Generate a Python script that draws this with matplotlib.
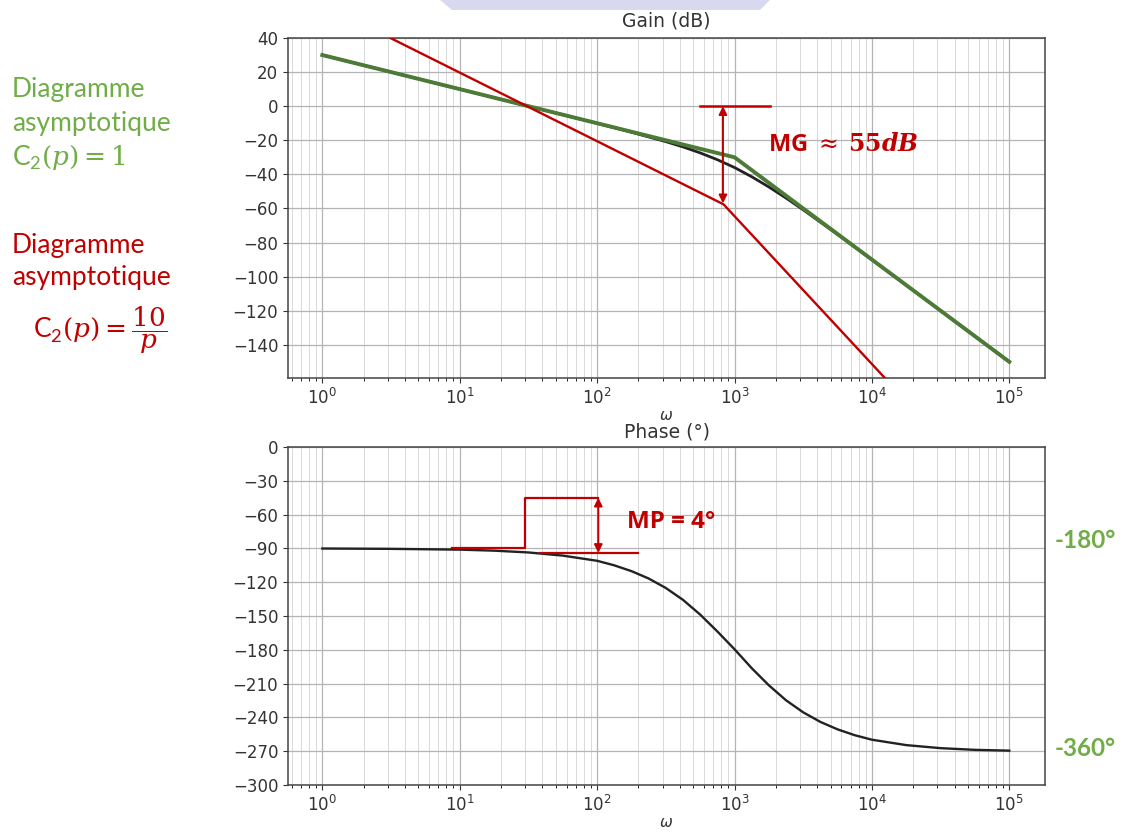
import matplotlib
matplotlib.use("Agg")
import matplotlib.pyplot as plt
from matplotlib.patches import Polygon

# ---------------- data ----------------
# Real gain curve (black)
omega_gain = [1, 10, 100, 178, 316, 422, 562, 750, 1000, 1334, 1778, 2371,
              3162, 5623, 10000, 31623, 100000]
gain_db = [30, 10, -10.1, -15.3, -20.8, -23.9, -27.4, -31.4, -36.0, -41.4,
           -47.4, -53.9, -60.8, -75.3, -90.1, -120.0, -150.0]

# Asymptotic diagram C2(p) = 1 (green)
omega_asym_green = [1, 1000, 100000]
gain_asym_green = [30, -30, -150]

# Asymptotic diagram C2(p) = 10/p (red)
omega_asym_red = [3.13, 832, 12600]
gain_asym_red = [40, -57.6, -160]

# Gain margin marker
omega_mg_line = [562, 1820]
gain_mg_line = [0, 0]
omega_mg_arrow = 824
gain_mg_arrow = [0, -57]

# Real phase curve
omega_phase = [1, 3.16, 10, 17.8, 31.6, 56.2, 100, 133, 178, 237, 316, 422,
               562, 750, 1000, 1334, 1778, 2371, 3162, 4217, 5623, 7499,
               10000, 17783, 31623, 56234, 100000]
phase_deg = [-90.1, -90.4, -91.1, -92.0, -93.6, -96.4, -101.0, -105.0,
             -110.2, -116.7, -125.1, -135.7, -148.7, -163.7, -179.5, -196.3,
             -211.5, -224.8, -235.5, -244.0, -250.6, -255.8, -259.8, -264.6,
             -267.3, -268.8, -269.5]

# Phase margin marker
omega_mp_step = [8.8, 30, 30, 102]
phase_mp_step = [-90, -90, -45, -45]
omega_mp_low = [38.5, 199]
phase_mp_low = [-94, -94]
omega_mp_arrow = 102
phase_mp_arrow = [-45, -94]

gain_ticks = [40, 20, 0, -20, -40, -60, -80, -100, -120, -140]
phase_ticks = [0, -30, -60, -90, -120, -150, -180, -210, -240, -270, -300]
xtick_vals = [1, 10, 100, 1000, 10000, 100000]

# ---------------- styling ----------------
GREEN_TXT = "#70AD47"
RED = "#C00000"
GREEN_LINE = "#4d7a36"
plt.rcParams.update({
    "font.family": ["DejaVu Sans"],
    "mathtext.fontset": "custom",
    "mathtext.rm": "DejaVu Serif",
    "mathtext.it": "DejaVu Serif:italic",
    "mathtext.bf": "DejaVu Serif:bold",
    "mathtext.bfit": "DejaVu Serif:italic:bold",
    "mathtext.sf": "Lato",
})

W, H = 1121, 834
fig = plt.figure(figsize=(W / 100, H / 100), dpi=100)
fig.patch.set_facecolor("white")


def fx(px):
    return px / W


def fy(py):
    return 1 - py / H


ax1 = fig.add_axes([fx(288), fy(378), fx(1045) - fx(288), fy(38) - fy(378)])
ax2 = fig.add_axes([fx(288), fy(785), fx(1045) - fx(288), fy(447) - fy(785)])

for ax in (ax1, ax2):
    ax.set_xscale("log")
    ax.set_xlim(10 ** -0.25, 10 ** 5.26)
    ax.set_xticks(xtick_vals)
    ax.grid(True, which="major", color="#b4b4b4", lw=0.9)
    ax.grid(True, which="minor", color="#d9d9d9", lw=0.7)
    ax.set_axisbelow(True)
    ax.tick_params(labelsize=12, colors="#333333", labelcolor="#333333")
    for lbl in ax.get_xticklabels() + ax.get_yticklabels():
        lbl.set_family("DejaVu Sans")
    for s in ax.spines.values():
        s.set_color("#444444")
        s.set_linewidth(1.1)
    ax.set_xlabel("ω", fontsize=11, style="italic", family="DejaVu Sans",
                  color="#333333", labelpad=0)

# ---- Gain ----
ax1.set_ylim(-159.5, 40)
ax1.set_yticks(gain_ticks)
ax1.set_title("Gain (dB)", fontsize=13.5, color="#333333", pad=8,
              family="DejaVu Sans")
ax1.plot(omega_gain, gain_db, color="#222222", lw=2.0, zorder=3)
ax1.plot(omega_asym_green, gain_asym_green, color=GREEN_LINE, lw=2.8, zorder=4)
ax1.plot(omega_asym_red, gain_asym_red, color=RED, lw=1.7, zorder=5)
ax1.plot(omega_mg_line, gain_mg_line, color=RED, lw=1.8, zorder=5)
ax1.annotate("", xy=(omega_mg_arrow, gain_mg_arrow[1]),
             xytext=(omega_mg_arrow, gain_mg_arrow[0]),
             arrowprops=dict(arrowstyle="<|-|>", color=RED, lw=1.4,
                             mutation_scale=12, shrinkA=0, shrinkB=0),
             zorder=6)
fig.text(fx(768), fy(145), r"MG $\approx$ $\mathbf{55}\mathbfit{dB}$",
         color=RED, fontsize=17, fontweight="bold", family="Open Sans",
         va="center", ha="left")

# ---- Phase ----
ax2.set_ylim(-300, 0)
ax2.set_yticks(phase_ticks)
ax2.set_title("Phase (°)", fontsize=13.5, color="#333333", pad=7,
              family="DejaVu Sans")
ax2.plot(omega_phase, phase_deg, color="#222222", lw=1.7, zorder=3)
ax2.plot(omega_mp_step, phase_mp_step, color=RED, lw=1.6, zorder=5)
ax2.plot(omega_mp_low, phase_mp_low, color=RED, lw=1.6, zorder=5)
ax2.annotate("", xy=(omega_mp_arrow, phase_mp_arrow[1]),
             xytext=(omega_mp_arrow, phase_mp_arrow[0]),
             arrowprops=dict(arrowstyle="<|-|>", color=RED, lw=1.4,
                             mutation_scale=12, shrinkA=0, shrinkB=0),
             zorder=6)
fig.text(fx(627), fy(522), "MP = 4°", color=RED, fontsize=17.5,
         fontweight="bold", family="Open Sans", va="center", ha="left")

# ---- side labels ----
lab_kw = dict(fontsize=19, family="Lato", va="center", ha="left")
fig.text(fx(12), fy(89), "Diagramme", color=GREEN_TXT, **lab_kw)
fig.text(fx(12), fy(124), "asymptotique", color=GREEN_TXT, **lab_kw)
fig.text(fx(12), fy(158), r"C$_{\mathsf{2}}$$(p) = 1$", color=GREEN_TXT, **lab_kw)
fig.text(fx(12), fy(245), "Diagramme", color=RED, **lab_kw)
fig.text(fx(12), fy(278), "asymptotique", color=RED, **lab_kw)
fig.text(fx(33), fy(330), r"C$_{\mathsf{2}}$$(p) = \dfrac{10}{p}$", color=RED, **lab_kw)

fig.text(fx(1055), fy(540), "-180°", color=GREEN_TXT, fontsize=17.5,
         fontweight="bold", family="Lato", va="center", ha="left")
fig.text(fx(1055), fy(748), "-360°", color=GREEN_TXT, fontsize=17.5,
         fontweight="bold", family="Lato", va="center", ha="left")

# faint slide decoration at the top
fig.add_artist(Polygon([(fx(440), fy(0)), (fx(770), fy(0)), (fx(760), fy(10)),
                        (fx(452), fy(10))], closed=True,
                       transform=fig.transFigure, facecolor="#d7daee",
                       edgecolor="none", zorder=0))

fig.savefig("out.png", dpi=100)
